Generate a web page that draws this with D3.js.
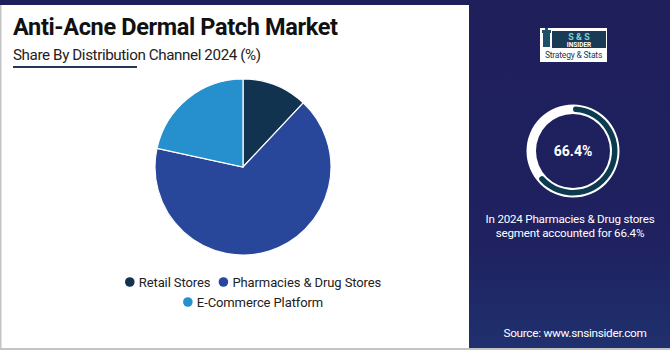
<!DOCTYPE html>
<html>
<head>
<meta charset="utf-8">
<script src="https://cdn.jsdelivr.net/npm/d3@7"></script>
<style>
  body { margin: 0; background: #fff; }
  svg { display: block; font-family: Roboto, "Noto Sans", sans-serif; }
</style>
</head>
<body>
<div id="chart"></div>
<script>
// data
const channels = ['Retail Stores', 'Pharmacies & Drug Stores', 'E-Commerce Platform']
const shares = [12.0, 66.4, 21.6]
const colors = ['#11334f', '#28479b', '#2690cf']
const highlight = 66.4

const WIDTH = 670
const HEIGHT = 350

const svg = d3.select('#chart').append('svg')
  .attr('width', WIDTH)
  .attr('height', HEIGHT)

// backgrounds
svg.append('rect').attr('width', WIDTH).attr('height', HEIGHT).attr('fill', '#ffffff')
svg.append('rect').attr('x', 0).attr('y', 0).attr('width', WIDTH).attr('height', 5).attr('fill', '#1e1f5b')
svg.append('rect').attr('x', 0).attr('y', 5).attr('width', 1.5).attr('height', HEIGHT).attr('fill', '#c4c4c4')
svg.append('rect').attr('x', 0).attr('y', HEIGHT - 2).attr('width', WIDTH).attr('height', 2).attr('fill', '#c4c4c4')

const grad = svg.append('defs').append('linearGradient')
  .attr('id', 'side').attr('x1', 0).attr('y1', 0).attr('x2', 0).attr('y2', 1)
grad.append('stop').attr('offset', '0%').attr('stop-color', '#1e1f5b')
grad.append('stop').attr('offset', '70%').attr('stop-color', '#1f2160')
grad.append('stop').attr('offset', '100%').attr('stop-color', '#20306e')

svg.append('rect').attr('x', 469).attr('y', 0).attr('width', WIDTH - 469).attr('height', HEIGHT - 2)
  .attr('fill', 'url(#side)')

// titles
svg.append('text').attr('x', 13).attr('y', 35)
  .attr('font-size', 23.5).attr('font-weight', 700).attr('fill', '#111')
  .attr('letter-spacing', -0.35)
  .text('Anti-Acne Dermal Patch Market')
svg.append('text').attr('x', 13).attr('y', 60)
  .attr('font-size', 15.2).attr('fill', '#222')
  .attr('letter-spacing', -0.4)
  .text('Share By Distribution Channel 2024 (%)')
svg.append('rect').attr('x', 13).attr('y', 66).attr('width', 124).attr('height', 2).attr('fill', '#1f3a5c')

// pie
const pie = d3.pie().sort(null).value(d => d)
const arc = d3.arc().innerRadius(0).outerRadius(88)
const g = svg.append('g').attr('transform', 'translate(243,167)')
g.selectAll('path')
  .data(pie(shares))
  .enter()
  .append('path')
  .attr('d', arc)
  .attr('fill', (d, i) => colors[i])
  .attr('stroke', '#fff')
  .attr('stroke-width', 1.2)

// legend
const rows = [[0, 1], [2]]
const legend = svg.append('g').attr('font-size', 13).attr('fill', '#222')
rows.forEach((row, r) => {
  const rowG = legend.append('g')
  let x = 0
  row.forEach(i => {
    rowG.append('circle').attr('cx', x + 5).attr('cy', 0).attr('r', 4.8).attr('fill', colors[i])
    const t = rowG.append('text').attr('x', x + 14).attr('y', 4.5)
      .attr('letter-spacing', -0.1).text(channels[i])
    x += 14 + t.node().getComputedTextLength() + 8
  })
  const w = x - 8
  rowG.attr('transform', `translate(${253 - w / 2},${282 + r * 20})`)
})

// logo
const logo = svg.append('g').attr('transform', 'translate(540,28)')
logo.append('rect').attr('width', 67).attr('height', 34).attr('fill', '#ffffff')
logo.append('rect').attr('x', 3).attr('y', 4).attr('width', 7).attr('height', 15).attr('fill', '#1e4f6b')
logo.append('rect').attr('x', 2).attr('y', 2).attr('width', 9).attr('height', 3).attr('fill', '#1e4f6b')
logo.append('rect').attr('x', 5).attr('y', 0).attr('width', 3).attr('height', 2).attr('fill', '#1e4f6b')
logo.append('rect').attr('x', 12).attr('y', 3).attr('width', 54).attr('height', 17).attr('fill', '#1b3a55')
logo.append('text').attr('x', 39).attr('y', 11.5).attr('text-anchor', 'middle')
  .attr('font-size', 9).attr('font-weight', 700).attr('fill', '#7fd3d6').text('S & S')
logo.append('text').attr('x', 39).attr('y', 18.5).attr('text-anchor', 'middle')
  .attr('font-size', 6.5).attr('font-weight', 700).attr('fill', '#ffffff').text('INSIDER')
logo.append('text').attr('x', 33.5).attr('y', 30).attr('text-anchor', 'middle')
  .attr('font-size', 8.5).attr('fill', '#1b3a55').attr('letter-spacing', -0.2).text('Strategy & Stats')

// highlight ring
const ring = svg.append('g').attr('transform', 'translate(573,151)')
ring.append('path')
  .attr('d', d3.arc().innerRadius(37).outerRadius(46.5).startAngle(0).endAngle(2 * Math.PI)())
  .attr('fill', '#ffffff')
ring.append('path')
  .attr('d', d3.arc().innerRadius(39).outerRadius(44.5).cornerRadius(2.7)
    .startAngle(0).endAngle(2 * Math.PI * highlight / 100 * 0.97)())
  .attr('fill', '#0c3a4e')
ring.append('text').attr('y', 5).attr('text-anchor', 'middle')
  .attr('font-size', 14).attr('font-weight', 700).attr('fill', '#ffffff')
  .text(highlight + '%')

svg.append('text').attr('x', 570).attr('y', 223).attr('text-anchor', 'middle')
  .attr('font-size', 11.6).attr('fill', '#ffffff').attr('letter-spacing', -0.2)
  .text('In 2024 Pharmacies & Drug stores')
svg.append('text').attr('x', 570).attr('y', 237).attr('text-anchor', 'middle')
  .attr('font-size', 11.6).attr('fill', '#ffffff').attr('letter-spacing', -0.2)
  .text('segment accounted for ' + highlight + '%')

svg.append('text').attr('x', 575).attr('y', 337).attr('text-anchor', 'middle')
  .attr('font-size', 11.8).attr('fill', '#ffffff').attr('letter-spacing', -0.3)
  .text('Source: www.snsinsider.com')
</script>
</body>
</html>
